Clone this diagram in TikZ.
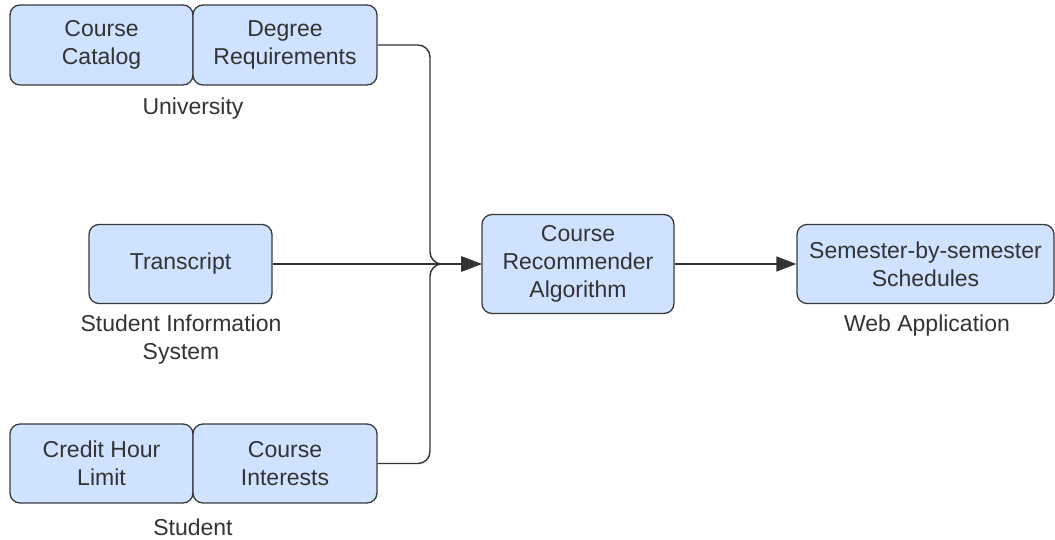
\documentclass[tikz,border=0pt]{standalone}
\usepackage{fontspec}
\setmainfont{Liberation Sans}
\usetikzlibrary{arrows.meta}
\definecolor{boxfill}{RGB}{207,226,255}
\definecolor{boxline}{RGB}{58,58,58}
\definecolor{ink}{RGB}{51,51,51}
\tikzset{
  box/.style={draw=boxline, fill=boxfill, line width=1.3pt, rounded corners=10pt,
    align=center, inner sep=0pt, text=ink,
    font=\fontsize{23}{28}\selectfont},
  caption/.style={align=center, inner sep=0pt, text=ink,
    font=\fontsize{23}{28}\selectfont},
  link/.style={draw=ink, line width=1.4pt, rounded corners=12pt,
    -{Triangle[length=20pt,width=15pt]}},
}
\begin{document}
\begin{tikzpicture}[x=1pt,y=-1pt]
\useasboundingbox (0,0) rectangle (1055,540);

% University sources
\node[box, minimum width=183pt, minimum height=80pt] (catalog) at (101.5,45) {Course\\Catalog};
\node[box, minimum width=184pt, minimum height=80pt] (degree) at (285,45) {Degree\\Requirements};
\node[caption] (univ) at (193,109) {University};

% Student information system
\node[box, minimum width=183pt, minimum height=79pt] (transcript) at (180.5,264) {Transcript};
\node[caption] (sis) at (181,340) {Student Information\\System};

% Student inputs
\node[box, minimum width=183pt, minimum height=79pt] (credit) at (101.5,463.5) {Credit Hour\\Limit};
\node[box, minimum width=184pt, minimum height=79pt] (interests) at (285,463.5) {Course\\Interests};
\node[caption] (student) at (193,527) {Student};

% Algorithm and output
\node[box, minimum width=192pt, minimum height=99pt] (algo) at (578,264) {Course\\Recommender\\Algorithm};
\node[box, minimum width=257pt, minimum height=79pt] (sched) at (925.5,264) {Semester-by-semester\\Schedules};
\node[caption] (web) at (927,326) {Web Application};

% Connectors
\coordinate (bus) at (430,264);
\draw[link] (degree.east) -| (bus) -- (algo.west);
\draw[link] (interests.east) -| (bus) -- (algo.west);
\draw[link] (transcript.east) -- (algo.west);
\draw[link] (algo.east) -- (sched.west);
\end{tikzpicture}
\end{document}
